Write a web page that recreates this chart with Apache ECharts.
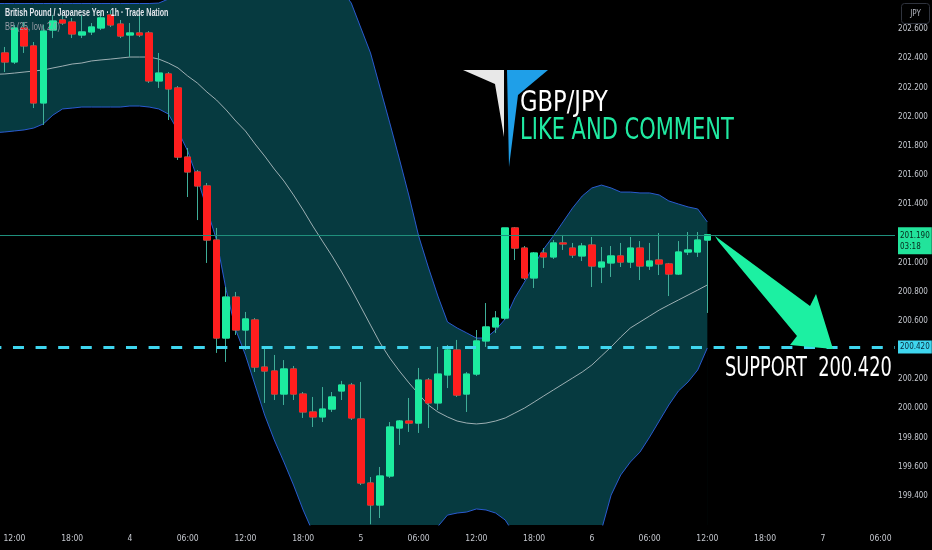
<!DOCTYPE html>
<html>
<head>
<meta charset="utf-8">
<script src="https://cdn.jsdelivr.net/npm/echarts@6/dist/echarts.min.js"></script>
<style>
  html, body { margin: 0; padding: 0; background: #000; }
  #chart { width: 932px; height: 550px; }
</style>
</head>
<body>
<div id="chart"></div>
<script>
// ---------- DATA (GBP/JPY, 1h) ----------
// candles, from 11:00 on day 3 to 12:00 on day 6
const opens = [202.437,202.375,202.608,202.485,202.094,202.594,202.663,202.649,202.560,202.581,
202.608,202.697,202.635,202.560,202.574,202.574,202.245,202.293,202.197,201.723,
201.621,201.525,201.154,200.482,200.763,200.537,200.606,200.283,200.256,200.098,
200.270,200.098,199.975,199.941,199.995,200.119,200.160,199.927,199.488,199.337,
199.536,199.865,199.913,199.899,200.194,200.037,200.229,200.400,200.098,200.235,
200.462,200.558,200.619,201.237,201.099,200.894,201.065,201.038,201.134,201.099,
201.045,201.120,200.969,200.997,201.045,201.003,201.099,200.976,201.017,200.990,
200.921,201.072,201.072,201.154];
const closes = [202.375,202.608,202.485,202.094,202.587,202.656,202.642,202.567,202.581,202.615,
202.677,202.629,202.553,202.574,202.560,202.245,202.299,202.190,201.723,201.621,
201.525,201.154,200.482,200.763,200.537,200.613,200.283,200.256,200.098,200.270,
200.098,199.975,199.941,199.995,200.078,200.160,199.934,199.488,199.337,199.536,
199.872,199.913,199.899,200.194,200.037,200.235,200.400,200.091,200.235,200.462,
200.558,200.619,201.237,201.099,200.894,201.065,201.038,201.134,201.127,201.051,
201.113,200.976,201.003,201.045,201.003,201.099,200.976,201.010,200.990,200.921,
201.072,201.086,201.154,201.190];
const lows = [202.306,202.361,202.437,202.059,201.943,202.539,202.629,202.539,202.539,202.560,
202.594,202.615,202.539,202.409,202.546,202.231,202.197,201.977,201.703,201.449,
201.291,200.997,200.380,200.318,200.503,200.400,200.249,200.037,200.057,200.023,
200.057,199.934,199.872,199.906,199.975,200.057,199.920,199.474,199.205,199.248,
199.522,199.749,199.838,199.831,199.865,199.989,200.139,200.078,199.975,200.222,
200.421,200.517,200.606,201.017,200.880,200.825,200.962,201.024,201.086,201.031,
201.010,200.832,200.859,200.901,200.969,200.962,200.880,200.949,200.914,200.770,
200.914,201.051,201.038,200.654];
const highs = [202.478,202.629,202.649,202.512,202.629,202.697,202.697,202.677,202.697,202.642,
202.718,202.731,202.663,202.642,202.711,202.587,202.437,202.306,202.210,201.785,
201.634,201.545,201.237,200.832,200.798,200.661,200.619,200.421,200.366,200.331,
200.290,200.112,200.078,200.146,200.112,200.188,200.174,200.181,199.529,199.598,
199.906,199.920,200.071,200.277,200.208,200.421,200.434,200.469,200.249,200.537,
200.722,200.667,201.237,201.243,201.113,201.072,201.099,201.154,201.189,201.134,
201.134,201.175,201.106,201.113,201.134,201.175,201.147,201.134,201.202,200.997,
201.147,201.209,201.209,201.195];

// Bollinger bands BB(25, low, 2.0), from 10:00 on day 3 to 12:00 on day 6
const upperBand = [202.776,
202.776,202.776,202.776,202.776,202.776,202.776,202.776,202.776,
202.776,202.776,202.776,202.776,202.776,202.776,202.776,202.776,
202.779,202.807,
202.9,203.0,203.1,203.2,203.3,203.35,203.4,203.4,203.4,203.35,203.3,203.25,203.2,203.15,203.1,203.0,202.95,202.87,
202.779,202.608,202.437,202.197,201.957,201.710,201.456,201.182,200.969,200.770,
200.592,200.551,200.517,200.482,200.482,200.537,200.613,200.757,200.866,200.983,
201.093,201.182,201.278,201.374,201.456,201.511,201.531,201.511,201.483,201.483,
201.477,201.477,201.463,201.422,201.401,201.381,201.367,201.278];
const middleBand = [202.290,
202.293,202.299,202.306,202.313,202.320,202.334,202.347,202.361,202.368,202.382,
202.389,202.395,202.402,202.409,202.409,202.409,202.395,202.368,202.334,202.279,
202.231,202.169,202.114,202.046,201.970,201.902,201.813,201.730,201.641,201.559,
201.463,201.360,201.250,201.147,201.045,200.935,200.818,200.695,200.571,200.448,
200.345,200.256,200.174,200.098,200.023,199.975,199.941,199.913,199.899,199.893,
199.899,199.913,199.934,199.968,200.002,200.043,200.085,200.126,200.167,200.208,
200.249,200.297,200.359,200.421,200.489,200.551,200.592,200.633,200.674,200.709,
200.743,200.777,200.811,200.846];
const lowerBand = [201.890,
201.895,201.902,201.909,201.922,201.950,202.011,202.053,202.059,202.066,202.066,
202.066,202.066,202.066,202.073,202.073,202.066,202.053,202.018,201.902,201.765,
201.579,201.367,201.154,200.811,200.537,200.366,200.160,199.954,199.783,199.632,
199.474,199.303,199.152,199.05,198.95,198.85,198.75,198.7,198.7,198.75,
198.85,198.95,199.05,199.12,199.17,199.19,199.268,199.282,199.289,199.310,
199.303,199.282,199.234,199.131,199.05,198.98,198.92,198.9,198.92,198.98,
199.05,199.12,199.166,199.405,199.543,199.632,199.700,199.803,199.913,200.023,
200.119,200.181,200.263,200.414];

const lastPrice = 201.190;
const countdown = '03:18';
const supportLevel = 200.420;
const tickLabels = ['12:00','18:00','4','06:00','12:00','18:00','5','06:00','12:00','18:00','6','06:00','12:00','18:00','7','06:00'];
const yHidden = [201.2, 200.4];

// hourly categories: 10:00 on day 3 onwards (94 slots incl. empty future area)
const nCats = 94;
const categories = [];
for (let k = 0; k < nCats; k++) {
  const h = 10 + k;
  categories.push('d' + (3 + Math.floor(h / 24)) + ' ' + String(h % 24).padStart(2, '0') + ':00');
}

// ---------- build series data ----------
const candleFull = [], candleBody = [];
const up = [], mid = [], lo = [], edgeMask = [];
const lastK = lowerBand.length - 1;
for (let k = 0; k < nCats; k++) {
  const i = k - 1;
  if (i >= 0 && i < opens.length) {
    candleFull.push([opens[i], closes[i], lows[i], highs[i]]);
    candleBody.push([opens[i], closes[i], Math.min(opens[i], closes[i]), Math.max(opens[i], closes[i])]);
  } else {
    candleFull.push('-');
    candleBody.push('-');
  }
  up.push(k < upperBand.length ? upperBand[k] : '-');
  mid.push(k < middleBand.length ? middleBand[k] : '-');
  lo.push(k < lowerBand.length ? lowerBand[k] : '-');
  // black mask just right of the band end (hides the fill's anti-aliased edge)
  edgeMask.push(k === lastK || k === lastK + 1 ? lowerBand[lastK] : '-');
}

const GREEN = '#1cec9f';
const RED = '#ff1e1e';
const WICK = '#3fae98';
const BAND_FILL = '#063a40';
const BAND_LINE = '#2a5bd0';
const AXIS_TXT = '#c5c8cf';
const NARROW = '"Liberation Sans Narrow", "DejaVu Sans Condensed", "Liberation Sans", sans-serif';

const chart = echarts.init(document.getElementById('chart'), null, { renderer: 'canvas' });
chart.setOption({
  animation: false,
  backgroundColor: '#000000',
  grid: { left: -9.62, right: 37, top: 0, bottom: 25, containLabel: false, outerBoundsMode: 'none' },
  xAxis: {
    type: 'category',
    data: categories,
    boundaryGap: true,
    axisLine: { show: false },
    axisTick: { show: false },
    splitLine: { show: false },
    axisLabel: {
      color: AXIS_TXT, fontSize: 8.5, fontFamily: NARROW, margin: 9,
      interval: function (idx) { return idx >= 2 && (idx - 2) % 6 === 0; },
      formatter: function (val, idx) { const j = (idx - 2) / 6; return tickLabels[j] !== undefined ? tickLabels[j] : ''; }
    }
  },
  yAxis: {
    type: 'value',
    position: 'right',
    min: 199.2, max: 202.8, interval: 0.2,
    scale: true,
    axisLine: { show: false },
    axisTick: { show: false },
    splitLine: { show: false },
    axisLabel: {
      color: AXIS_TXT, fontSize: 8, fontFamily: NARROW, margin: 18, align: 'center',
      showMinLabel: false, showMaxLabel: false,
      formatter: function (v) {
        for (const h of yHidden) if (Math.abs(v - h) < 1e-6) return '';
        return v.toFixed(3);
      }
    }
  },
  series: [
    {
      name: 'BB upper', type: 'line', data: up, symbol: 'none', z: 1,
      lineStyle: { color: BAND_LINE, width: 1 },
      areaStyle: { color: BAND_FILL, opacity: 1, origin: 'start' }
    },
    {
      name: 'BB lower', type: 'line', data: lo, symbol: 'none', z: 1,
      lineStyle: { color: BAND_LINE, width: 1 },
      areaStyle: { color: '#000000', opacity: 1, origin: 'start' }
    },
    {
      name: 'edge mask', type: 'line', data: edgeMask, symbol: 'none', z: 1, silent: true,
      lineStyle: { width: 0, opacity: 0 },
      areaStyle: { color: '#000000', opacity: 1, origin: 'start' }
    },
    {
      name: 'BB basis', type: 'line', data: mid, symbol: 'none', z: 2,
      lineStyle: { color: '#aebdc0', width: 1, opacity: 0.9 }
    },
    {
      name: 'wicks', type: 'candlestick', data: candleFull, barWidth: 7, z: 3,
      itemStyle: { color: 'transparent', color0: 'transparent', borderColor: WICK, borderColor0: WICK, borderWidth: 1 },
      markLine: {
        silent: true, symbol: ['none', 'none'],
        data: [{ yAxis: lastPrice }],
        lineStyle: { color: '#1f8f7c', width: 1, type: 'solid' },
        label: {
          show: true, position: 'end', distance: 3, offset: [0, 6],
          formatter: '{a|' + lastPrice.toFixed(3) + '}\n{b|' + countdown + '}',
          backgroundColor: '#22e39b', padding: [3, 2, 2, 2],
          rich: {
            a: { color: '#06291c', fontSize: 8, fontFamily: NARROW, lineHeight: 11 },
            b: { color: '#06291c', fontSize: 8, fontFamily: NARROW, lineHeight: 11 }
          }
        }
      }
    },
    {
      name: 'bodies', type: 'candlestick', data: candleBody, barWidth: 7, z: 4,
      itemStyle: { color: GREEN, color0: RED, borderColor: GREEN, borderColor0: RED, borderWidth: 1 },
      markLine: {
        silent: true, symbol: ['none', 'none'], z: 6,
        data: [{ yAxis: supportLevel }],
        lineStyle: { color: '#3fd6ef', width: 3, type: [11, 11.6] },
        label: {
          show: true, position: 'end', distance: 3,
          formatter: supportLevel.toFixed(3),
          backgroundColor: '#3fd6ef', color: '#0a2a3a', padding: [3, 2, 2, 2],
          fontSize: 8, fontFamily: NARROW
        }
      }
    }
  ],
  graphic: [
    { type: 'text', x: 5, y: 13, scaleX: 0.71, z: 100,
      style: { text: 'British Pound / Japanese Yen · 1h · Trade Nation', x: 0, y: 0, fill: '#e3e6ec',
               fontSize: 10, fontFamily: '"Liberation Sans", Arial, sans-serif', fontWeight: 'bold', verticalAlign: 'middle' } },
    { type: 'text', x: 5, y: 27, scaleX: 0.75, z: 100,
      style: { text: 'BB (25, low, 2.0)', x: 0, y: 0, fill: '#9a9ea8',
               fontSize: 10, fontFamily: '"Liberation Sans", Arial, sans-serif', verticalAlign: 'middle' } },
    // logo
    { type: 'polygon', z: 100, shape: { points: [[463,70],[504,70],[504,137],[495,84]] }, style: { fill: '#e8e8e8' } },
    { type: 'polygon', z: 100, shape: { points: [[507,70],[548,70],[518,95],[509,167]] }, style: { fill: '#1f9fe8' } },
    { type: 'text', x: 520, y: 103, scaleX: 0.78, z: 100,
      style: { text: 'GBP/JPY', x: 0, y: 0, fill: '#ffffff', fontSize: 29, fontFamily: '"DejaVu Sans", sans-serif', verticalAlign: 'middle' } },
    { type: 'text', x: 520, y: 131, scaleX: 0.7, z: 100,
      style: { text: 'LIKE AND COMMENT', x: 0, y: 0, fill: '#20eaa2', fontSize: 30, fontFamily: '"DejaVu Sans", sans-serif', verticalAlign: 'middle' } },
    // arrow
    { type: 'polygon', z: 100, shape: { points: [[715,236],[810,306],[816,294],[833,349],[790,345],[797,336],[718,241]] }, style: { fill: '#1cf0a2' } },
    { type: 'text', x: 725, y: 369, scaleX: 0.66, z: 100,
      style: { text: 'SUPPORT  200.420', x: 0, y: 0, fill: '#ffffff', fontSize: 27, fontFamily: '"DejaVu Sans", sans-serif', verticalAlign: 'middle' } },
    // currency button
    { type: 'rect', z: 100, shape: { x: 901.5, y: 3.5, width: 28, height: 20, r: 3 }, style: { fill: '#000000', stroke: '#2f333d', lineWidth: 1 } },
    { type: 'text', z: 101, x: 915.5, y: 13.5,
      style: { text: 'JPY', x: 0, y: 0, fill: '#b2b5be', fontSize: 8, fontFamily: NARROW, align: 'center', verticalAlign: 'middle' } }
  ]
});
</script>
</body>
</html>
